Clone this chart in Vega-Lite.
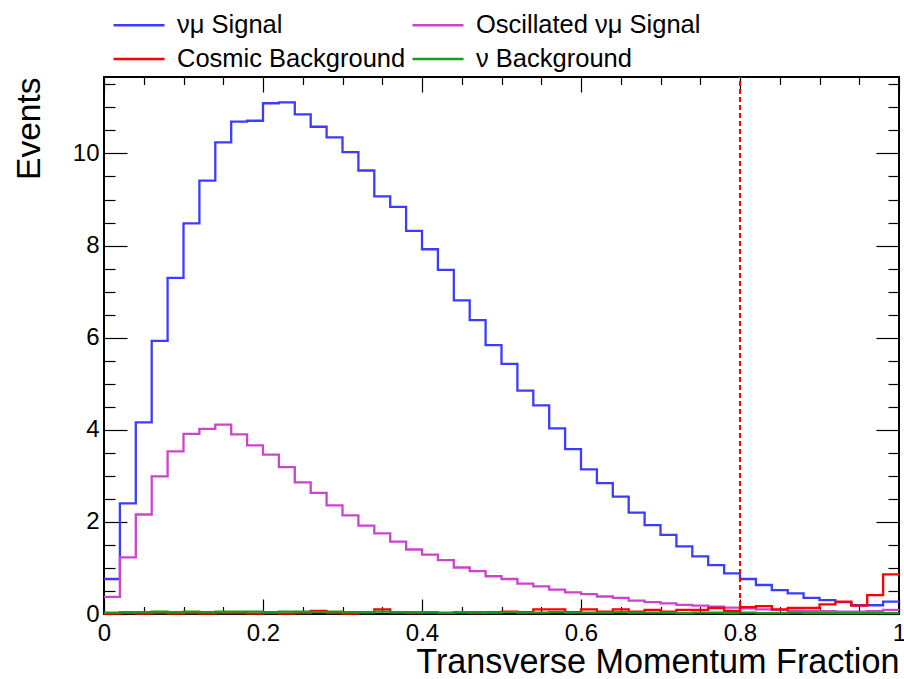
{
"$schema": "https://vega.github.io/schema/vega-lite/v6.json",
"width": 795,
"height": 537,
"autosize": {"type": "none"},
"padding": {"left": 104, "top": 77, "right": 5, "bottom": 65},
"background": "white",
"config": {
  "font": "Liberation Sans",
  "view": {"stroke": "black", "strokeWidth": 2},
  "axis": {"labelFontSize": 24, "labelColor": "black", "titleColor": "black", "tickColor": "black", "tickWidth": 1.2, "labelFont": "Liberation Sans", "titleFont": "Liberation Sans", "titleFontWeight": "normal", "grid": false, "domain": false, "ticks": true},
  "legend": {"labelFont": "Liberation Sans"}
},
"data": {"values": [
{"x":0,"signal":0.76,"osc":0.37,"cosmic":0.01,"nubg":0.03},
{"x":0.02,"signal":2.40,"osc":1.23,"cosmic":0.02,"nubg":0.04},
{"x":0.04,"signal":4.16,"osc":2.16,"cosmic":0.01,"nubg":0.04},
{"x":0.06,"signal":5.93,"osc":2.99,"cosmic":0.02,"nubg":0.05},
{"x":0.08,"signal":7.30,"osc":3.53,"cosmic":0.01,"nubg":0.04},
{"x":0.1,"signal":8.48,"osc":3.91,"cosmic":0.02,"nubg":0.05},
{"x":0.12,"signal":9.41,"osc":4.02,"cosmic":0.01,"nubg":0.04},
{"x":0.14,"signal":10.24,"osc":4.11,"cosmic":0.02,"nubg":0.05},
{"x":0.16,"signal":10.69,"osc":3.90,"cosmic":0.02,"nubg":0.05},
{"x":0.18,"signal":10.71,"osc":3.66,"cosmic":0.01,"nubg":0.05},
{"x":0.2,"signal":11.09,"osc":3.46,"cosmic":0.02,"nubg":0.04},
{"x":0.22,"signal":11.11,"osc":3.19,"cosmic":0.01,"nubg":0.05},
{"x":0.24,"signal":10.85,"osc":2.86,"cosmic":0.02,"nubg":0.05},
{"x":0.26,"signal":10.58,"osc":2.63,"cosmic":0.07,"nubg":0.04},
{"x":0.28,"signal":10.35,"osc":2.36,"cosmic":0.02,"nubg":0.05},
{"x":0.3,"signal":10.03,"osc":2.14,"cosmic":0.01,"nubg":0.04},
{"x":0.32,"signal":9.63,"osc":1.92,"cosmic":0.03,"nubg":0.04},
{"x":0.34,"signal":9.07,"osc":1.75,"cosmic":0.10,"nubg":0.05},
{"x":0.36,"signal":8.84,"osc":1.57,"cosmic":0.03,"nubg":0.04},
{"x":0.38,"signal":8.32,"osc":1.40,"cosmic":0.02,"nubg":0.04},
{"x":0.4,"signal":7.92,"osc":1.29,"cosmic":0.03,"nubg":0.04},
{"x":0.42,"signal":7.47,"osc":1.17,"cosmic":0.02,"nubg":0.03},
{"x":0.44,"signal":6.81,"osc":1.01,"cosmic":0.03,"nubg":0.04},
{"x":0.46,"signal":6.38,"osc":0.93,"cosmic":0.02,"nubg":0.04},
{"x":0.48,"signal":5.84,"osc":0.82,"cosmic":0.04,"nubg":0.03},
{"x":0.5,"signal":5.43,"osc":0.76,"cosmic":0.05,"nubg":0.04},
{"x":0.52,"signal":4.85,"osc":0.66,"cosmic":0.04,"nubg":0.03},
{"x":0.54,"signal":4.53,"osc":0.60,"cosmic":0.10,"nubg":0.03},
{"x":0.56,"signal":4.03,"osc":0.53,"cosmic":0.10,"nubg":0.04},
{"x":0.58,"signal":3.58,"osc":0.47,"cosmic":0.04,"nubg":0.03},
{"x":0.6,"signal":3.14,"osc":0.43,"cosmic":0.10,"nubg":0.03},
{"x":0.62,"signal":2.84,"osc":0.38,"cosmic":0.05,"nubg":0.03},
{"x":0.64,"signal":2.55,"osc":0.35,"cosmic":0.10,"nubg":0.04},
{"x":0.66,"signal":2.20,"osc":0.29,"cosmic":0.05,"nubg":0.03},
{"x":0.68,"signal":1.93,"osc":0.26,"cosmic":0.09,"nubg":0.03},
{"x":0.7,"signal":1.72,"osc":0.23,"cosmic":0.05,"nubg":0.03},
{"x":0.72,"signal":1.47,"osc":0.20,"cosmic":0.09,"nubg":0.02},
{"x":0.74,"signal":1.25,"osc":0.18,"cosmic":0.09,"nubg":0.03},
{"x":0.76,"signal":1.06,"osc":0.16,"cosmic":0.13,"nubg":0.03},
{"x":0.78,"signal":0.88,"osc":0.14,"cosmic":0.07,"nubg":0.02},
{"x":0.8,"signal":0.76,"osc":0.12,"cosmic":0.15,"nubg":0.03},
{"x":0.82,"signal":0.63,"osc":0.10,"cosmic":0.17,"nubg":0.02},
{"x":0.84,"signal":0.52,"osc":0.09,"cosmic":0.10,"nubg":0.02},
{"x":0.86,"signal":0.45,"osc":0.07,"cosmic":0.13,"nubg":0.03},
{"x":0.88,"signal":0.35,"osc":0.06,"cosmic":0.13,"nubg":0.02},
{"x":0.9,"signal":0.30,"osc":0.06,"cosmic":0.21,"nubg":0.02},
{"x":0.92,"signal":0.26,"osc":0.05,"cosmic":0.27,"nubg":0.02},
{"x":0.94,"signal":0.19,"osc":0.05,"cosmic":0.18,"nubg":0.02},
{"x":0.96,"signal":0.19,"osc":0.06,"cosmic":0.41,"nubg":0.02},
{"x":0.98,"signal":0.27,"osc":0.09,"cosmic":0.86,"nubg":0.02},
{"x":1,"signal":0.27,"osc":0.09,"cosmic":0.86,"nubg":0.02}
]},
"resolve": {"axis": {"x": "independent", "y": "independent"}},
"layer": [
{
  "mark": {"type": "line", "interpolate": "step-after", "strokeWidth": 2.3},
  "encoding": {
    "x": {"field": "x", "type": "quantitative", "scale": {"domain": [0, 1], "nice": false, "zero": false},
      "axis": {"orient": "bottom", "values": [0,0.2,0.4,0.6,0.8,1], "format": "~g",
        "tickSize": -15, "labelPadding": 22, "labelFlush": false, "labelOverlap": false,
        "title": "Transverse Momentum Fraction", "titleAnchor": "end", "titleFontSize": 34.2, "titlePadding": 0}},
    "y": {"field": "signal", "type": "quantitative", "scale": {"domain": [0, 11.66], "nice": false, "zero": false},
      "axis": {"orient": "left", "values": [0,2,4,6,8,10], "format": "d",
        "tickSize": -23, "labelPadding": 28, "labelOverlap": false, "labelFlush": false,
        "title": "Events", "titleAnchor": "end", "titleFontSize": 33.5, "titlePadding": 26}},
    "color": {"datum": "νμ Signal", "type": "nominal",
      "scale": {"domain": ["νμ Signal", "Cosmic Background", "Oscillated νμ Signal", "ν Background"], "range": ["#3c3cff", "#ff0000", "#cc44cc", "#1a9a1a"]},
      "legend": {"orient": "none", "legendX": 8, "legendY": -65, "columns": 2, "symbolType": "stroke", "symbolSize": 2601, "symbolStrokeWidth": 2.5, "labelFontSize": 25.5, "labelOffset": 11, "columnPadding": 5, "rowPadding": 7, "clipHeight": 26, "title": null, "padding": 0, "labelColor": "black", "labelLimit": 400}}
  }
},
{
  "mark": {"type": "line", "interpolate": "step-after", "strokeWidth": 2.3},
  "encoding": {
    "x": {"field": "x", "type": "quantitative",
      "axis": {"orient": "bottom", "values": [0.05,0.1,0.15,0.25,0.3,0.35,0.45,0.5,0.55,0.65,0.7,0.75,0.85,0.9,0.95], "labels": false, "tickSize": -7.5, "title": null}},
    "y": {"field": "osc", "type": "quantitative",
      "axis": {"orient": "left", "values": [0.5,1,1.5,2.5,3,3.5,4.5,5,5.5,6.5,7,7.5,8.5,9,9.5,10.5,11,11.5], "labels": false, "tickSize": -11, "title": null}},
    "color": {"datum": "Oscillated νμ Signal", "type": "nominal"}
  }
},
{
  "mark": {"type": "line", "interpolate": "step-after", "strokeWidth": 2.3},
  "encoding": {
    "x": {"field": "x", "type": "quantitative",
      "axis": {"orient": "top", "values": [0.05,0.1,0.15,0.25,0.3,0.35,0.45,0.5,0.55,0.65,0.7,0.75,0.85,0.9,0.95], "labels": false, "tickSize": -7.5, "title": null}},
    "y": {"field": "cosmic", "type": "quantitative",
      "axis": {"orient": "right", "values": [0.5,1,1.5,2.5,3,3.5,4.5,5,5.5,6.5,7,7.5,8.5,9,9.5,10.5,11,11.5], "labels": false, "tickSize": -11, "title": null}},
    "color": {"datum": "Cosmic Background", "type": "nominal"}
  }
},
{
  "mark": {"type": "line", "interpolate": "step-after", "strokeWidth": 2.3},
  "encoding": {
    "x": {"field": "x", "type": "quantitative", "axis": null},
    "y": {"field": "nubg", "type": "quantitative", "axis": null},
    "color": {"datum": "ν Background", "type": "nominal"}
  }
},
{
  "data": {"values": [{"cut": 0.8, "lo": 0, "hi": 11.66}]},
  "mark": {"type": "rule", "color": "#ff0000", "strokeDash": [5, 3], "strokeWidth": 2},
  "encoding": {
    "x": {"field": "cut", "type": "quantitative",
      "axis": {"orient": "top", "values": [0,0.2,0.4,0.6,0.8,1], "labels": false, "tickSize": -15, "title": null}},
    "y": {"field": "lo", "type": "quantitative",
      "axis": {"orient": "right", "values": [0,2,4,6,8,10], "labels": false, "tickSize": -23, "title": null}},
    "y2": {"field": "hi"}
  }
}
]
}
